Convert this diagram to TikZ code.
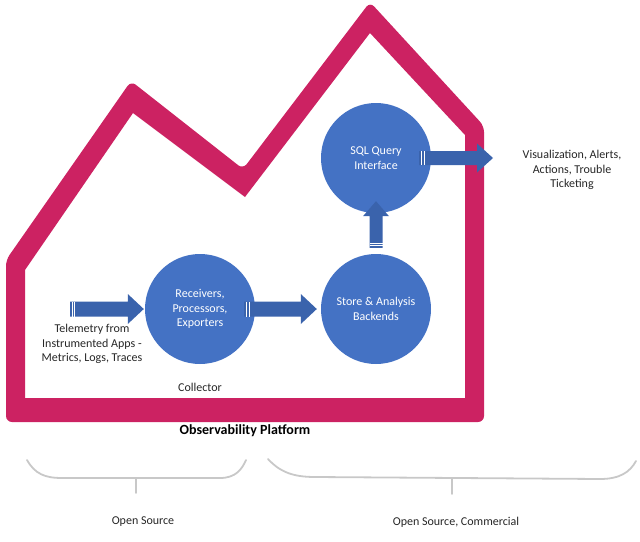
\documentclass[tikz,border=0pt]{standalone}
\usepackage{fontspec}
\setmainfont{Carlito}
\usetikzlibrary{calc}
\definecolor{pinkc}{HTML}{CC2262}
\definecolor{circ}{HTML}{4472C4}
\definecolor{arr}{HTML}{3A63AC}
\definecolor{brc}{HTML}{C8C8C8}
\definecolor{txt}{HTML}{262626}
\newcommand\fatarr[5]{% start, end, half shaft, half head, head length
  \coordinate (fa-b) at ($(#2)!#5!(#1)$);
  \fill[arr] ($(#1)!#3!90:(#2)$) -- ($(fa-b)!#3!-90:(#1)$) -- ($(fa-b)!#4!-90:(#1)$) -- (#2)
    -- ($(fa-b)!#4!90:(#1)$) -- ($(fa-b)!#3!90:(#1)$) -- ($(#1)!#3!-90:(#2)$) -- cycle;}
\newcommand\stripeat[4]{% start, end, distance, half width
  \coordinate (st-c) at ($(#1)!#3!(#2)$);
  \draw[stripe] ($(st-c)!#4!90:(#2)$) -- ($(st-c)!#4!-90:(#2)$);}
\begin{document}
\begin{tikzpicture}[x=1pt,y=-1pt,
  bubble/.style={circle, fill=circ, minimum size=110pt, inner sep=0pt, text=white, align=center, font=\fontsize{12}{14.3}\selectfont},
  lbl/.style={text=txt, align=center, font=\fontsize{12}{14.3}\selectfont},
  stripe/.style={draw=white, line width=0.8pt},
  brace/.style={draw=brc, line width=1.8pt, line cap=round}]
\useasboundingbox (0,0) rectangle (640,541);
% platform outline
\fill[pinkc, even odd rule, rounded corners=6pt]
  (6,422) -- (6,260) -- (131,81) -- (243,169) -- (370,2) -- (484,126) -- (484,422) -- cycle
  [sharp corners] (25,398) -- (25,270) -- (133,113) -- (245,197) -- (370,33) -- (465,135) -- (465,398) -- cycle;
% circles
\node[bubble] (rec) at (200,309) {Receivers,\\Processors,\\Exporters};
\node[bubble] (store) at (376,309) {Store \& Analysis\\Backends};
\node[bubble] (sql) at (376,158) {SQL Query\\Interface};
% labels
\node[lbl] (tel) at (92,344) {Telemetry from\\Instrumented Apps -\\Metrics, Logs, Traces};
\node[lbl] (col) at (200,387) {Collector};
\node[text=black, font=\fontsize{14}{16}\selectfont\bfseries] (obs) at (245,431) {Observability Platform};
\node[lbl] (vis) at (572,170) {Visualization, Alerts,\\Actions, Trouble\\Ticketing};
\node[lbl] (os1) at (143,522) {Open Source};
\node[lbl] (os2) at (456,522) {Open Source, Commercial};
% arrow end points
\coordinate (a1s) at (70,309);
\coordinate (a1e) at ([xshift=-1pt]rec.west);
\coordinate (a2s) at ([xshift=-11pt]rec.east);
\coordinate (a2e) at ([xshift=-4pt]store.west);
\coordinate (a3s) at ([yshift=6pt]store.north);
\coordinate (a3e) at ([yshift=12pt]sql.south);
\coordinate (a4s) at ([xshift=-12pt]sql.east);
\coordinate (a4e) at (493,158);
\fatarr{a1s}{a1e}{7.5pt}{15pt}{16pt}
\stripeat{a1s}{a1e}{2.2pt}{7.5pt}
\stripeat{a1s}{a1e}{4.8pt}{7.5pt}
\fatarr{a2s}{a2e}{7.5pt}{15pt}{16pt}
\stripeat{a2s}{a2e}{2.2pt}{7.5pt}
\stripeat{a2s}{a2e}{4.8pt}{7.5pt}
\fatarr{a3s}{a3e}{6.5pt}{13pt}{15pt}
\stripeat{a3s}{a3e}{2.2pt}{6.5pt}
\stripeat{a3s}{a3e}{4.8pt}{6.5pt}
\fatarr{a4s}{a4e}{7pt}{14.5pt}{16pt}
\stripeat{a4s}{a4e}{2.2pt}{7pt}
\stripeat{a4s}{a4e}{4.8pt}{7pt}
% braces
\draw[brace] (27,460) .. controls (35,474) and (45,478) .. (62,478) -- (220,478) .. controls (236,478) and (242,469) .. (246,460);
\draw[brace] (136,478) -- (136,493);
\draw[brace] (268,459) .. controls (280,472) and (293,477) .. (315,477) -- (600,479) .. controls (620,479) and (630,472) .. (636,461);
\draw[brace] (452,479) -- (452,494);
\end{tikzpicture}
\end{document}
